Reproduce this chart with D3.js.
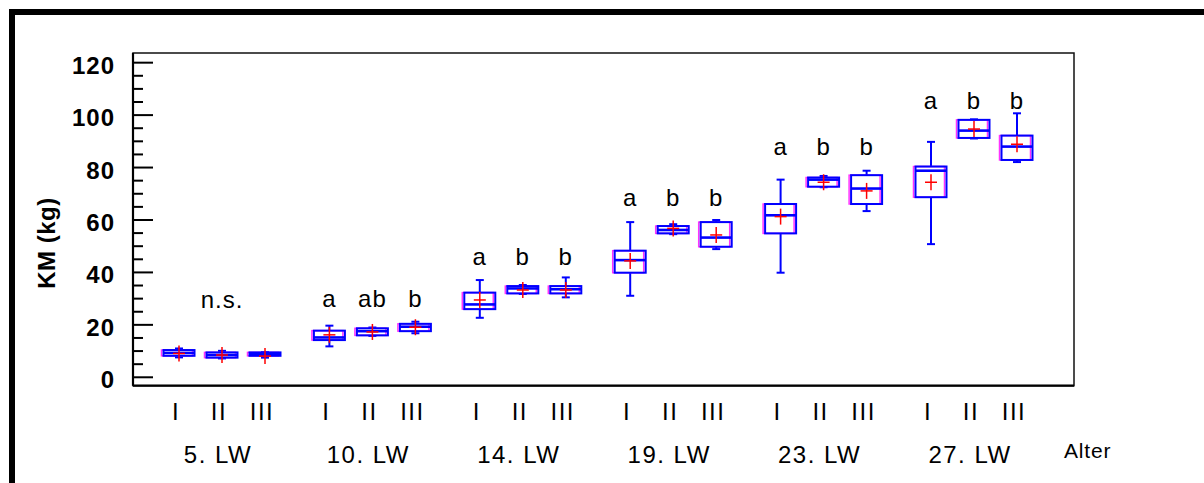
<!DOCTYPE html>
<html><head><meta charset="utf-8">
<script src="https://cdn.jsdelivr.net/npm/d3@7"></script>
<style>
html,body{margin:0;padding:0;background:#fff;}
svg{display:block;font-family:"Liberation Sans",Arial,Helvetica,sans-serif;}
</style></head>
<body>
<svg id="chart" width="1204" height="483"></svg>
<script>
// ---- data ----
const groups = ["5. LW","10. LW","14. LW","19. LW","23. LW","27. LW"];
const treatments = ["I","II","III"];
// one value per box, group-major order (5. LW I, II, III, 10. LW I, ...)
const whiskerLow  = [7.4, 7.0, 7.3,  11.6, 15.6, 16.6,  22.5, 31.6, 30.3,  30.9, 54.4, 48.7,  39.7, 72.3, 63.2,  50.6, 90.9, 81.9];
const q1          = [8.0, 7.3, 8.0,  14.0, 15.8, 17.4,  25.8, 31.8, 31.8,  39.7, 54.7, 49.6,  54.7, 72.5, 65.9,  68.5, 91.1, 82.7];
const median      = [9.1, 8.3, 8.7,  15.0, 17.4, 19.1,  27.6, 33.7, 33.4,  44.5, 56.0, 53.1,  61.6, 75.2, 71.8,  78.6, 93.9, 87.8];
const q3          = [10.2, 9.3, 9.3, 17.6, 18.5, 20.2,  32.1, 34.6, 34.6,  48.1, 57.5, 59.0,  65.9, 76.0, 76.9,  80.2, 98.0, 92.0];
const whiskerHigh = [10.8, 9.9, 9.4, 19.5, 18.8, 21.0,  36.9, 35.0, 37.9,  59.0, 58.2, 59.8,  75.2, 76.6, 78.6,  89.6, 98.2, 100.5];
const means       = [8.9, 8.3, 7.9,  16.0, 17.1, 18.9,  29.3, 33.1, 33.1,  44.2, 56.6, 54.1,  61.1, 74.2, 70.9,  74.2, 94.5, 88.7];
const letters     = ["", "n.s.", "",  "a","ab","b",  "a","b","b",  "a","b","b",  "a","b","b",  "a","b","b"];
const letterLevel = [26.1, 26.7, 42.6, 65.2, 84.6, 102.1]; // kg level of the letters per group
const yMajorTicks = [0, 20, 40, 60, 80, 100, 120];
const yLabel = "KM (kg)";
const xTitle = "Alter";

// ---- layout ----
const svg = d3.select("#chart");
const L = 133, T = 53, R = 1074, B = 385.7;

const y = d3.scaleLinear().domain([-3.4, 123.5]).range([B, T]);
const xg = d3.scaleBand().domain(groups).range([146.8, 1049.2]).padding(0);
const xt = d3.scalePoint().domain(treatments).range([-43, 43]);

const boxes = [];
groups.forEach((g, gi) => treatments.forEach((t, ti) => {
  const i = gi * 3 + ti;
  boxes.push({g, t, gi, lo: whiskerLow[i], q1: q1[i], med: median[i], q3: q3[i], hi: whiskerHigh[i], mean: means[i], letter: letters[i]});
}));
const cx = d => xg(d.g) + xg.bandwidth() / 2 + xt(d.t);

// outer thick frame (top + left)
svg.append("path").attr("d", "M12,483V12H1204").attr("fill", "none").attr("stroke", "#000").attr("stroke-width", 6);

// plot frame
svg.append("rect").attr("x", L).attr("y", T).attr("width", R - L).attr("height", B - T)
  .attr("fill", "none").attr("stroke", "#111").attr("stroke-width", 1.5);
svg.append("line").attr("x1", L).attr("x2", R).attr("y1", B).attr("y2", B).attr("stroke", "#000").attr("stroke-width", 2.2);
svg.append("line").attr("x1", L).attr("x2", L).attr("y1", T).attr("y2", B).attr("stroke", "#000").attr("stroke-width", 2.2);

// y axis: major + minor ticks pointing inward
const minorTicks = d3.range(0, 121, 5).filter(v => !yMajorTicks.includes(v));
const yAxisMajor = d3.axisRight(y).tickValues(yMajorTicks).tickSize(20).tickFormat("");
const yAxisMinor = d3.axisRight(y).tickValues(minorTicks).tickSize(10).tickFormat("");
[yAxisMajor, yAxisMinor].forEach(ax => {
  const gA = svg.append("g").attr("transform", `translate(${L},0)`).call(ax);
  gA.select(".domain").remove();
  gA.selectAll(".tick line").attr("stroke", "#000").attr("stroke-width", 2);
});
svg.append("g").selectAll("text").data(yMajorTicks).join("text")
  .attr("x", 115).attr("y", d => y(d) + 11.5)
  .attr("text-anchor", "end").attr("font-size", 24).attr("font-weight", "bold")
  .attr("letter-spacing", 1).attr("fill", "#000").text(d => d);

svg.append("text").attr("transform", `translate(55,243) rotate(-90)`)
  .attr("text-anchor", "middle").attr("font-size", 24).attr("font-weight", "bold")
  .attr("letter-spacing", 0.5).text(yLabel);

// x labels
svg.append("g").selectAll("text").data(boxes).join("text")
  .attr("x", d => cx(d) - 3).attr("y", 420).attr("text-anchor", "middle")
  .attr("font-size", 24).attr("letter-spacing", 1.5).attr("fill", "#000").text(d => d.t);
svg.append("g").selectAll("text").data(groups).join("text")
  .attr("x", d => xg(d) + xg.bandwidth() / 2 - 4).attr("y", 462.5).attr("text-anchor", "middle")
  .attr("font-size", 24).attr("letter-spacing", 1.5).attr("fill", "#000").text(d => d);
svg.append("text").attr("x", 1064).attr("y", 458).attr("font-size", 21).attr("letter-spacing", 0.8)
  .attr("fill", "#000").text(xTitle);

// boxes
const bw = 31, cap = 8;
const gb = svg.append("g");
const box = gb.selectAll("g").data(boxes).join("g");
// whiskers
box.append("line").attr("x1", cx).attr("x2", cx).attr("y1", d => y(d.hi)).attr("y2", d => y(d.q3))
  .attr("stroke", "#0000ff").attr("stroke-width", 2);
box.append("line").attr("x1", cx).attr("x2", cx).attr("y1", d => y(d.q1)).attr("y2", d => y(d.lo))
  .attr("stroke", "#0000ff").attr("stroke-width", 2);
box.append("line").attr("x1", d => cx(d) - cap / 2).attr("x2", d => cx(d) + cap / 2)
  .attr("y1", d => y(d.hi)).attr("y2", d => y(d.hi)).attr("stroke", "#0000ff").attr("stroke-width", 2);
box.append("line").attr("x1", d => cx(d) - cap / 2).attr("x2", d => cx(d) + cap / 2)
  .attr("y1", d => y(d.lo)).attr("y2", d => y(d.lo)).attr("stroke", "#0000ff").attr("stroke-width", 2);
// magenta shadow box
box.append("rect").attr("x", d => cx(d) - bw / 2 - 2).attr("y", d => y(d.q3))
  .attr("width", bw).attr("height", d => y(d.q1) - y(d.q3))
  .attr("fill", "none").attr("stroke", "#ff00ff").attr("stroke-width", 1.5).attr("stroke-opacity", 0.8);
// blue box
box.append("rect").attr("x", d => cx(d) - bw / 2).attr("y", d => y(d.q3))
  .attr("width", bw).attr("height", d => y(d.q1) - y(d.q3))
  .attr("fill", "none").attr("stroke", "#0000ff").attr("stroke-width", 2);
// median
box.append("line").attr("x1", d => cx(d) - bw / 2).attr("x2", d => cx(d) + bw / 2)
  .attr("y1", d => y(d.med)).attr("y2", d => y(d.med)).attr("stroke", "#0000ff").attr("stroke-width", 2.6);
// mean cross
box.append("line").attr("x1", d => cx(d) - 6).attr("x2", d => cx(d) + 6)
  .attr("y1", d => y(d.mean)).attr("y2", d => y(d.mean)).attr("stroke", "#ff0000").attr("stroke-width", 1.5);
box.append("line").attr("x1", cx).attr("x2", cx)
  .attr("y1", d => y(d.mean) - 8).attr("y2", d => y(d.mean) + 8).attr("stroke", "#ff0000").attr("stroke-width", 1.5);

// significance letters
box.filter(d => d.letter).append("text")
  .attr("x", cx).attr("y", d => y(letterLevel[d.gi]))
  .attr("text-anchor", "middle").attr("font-size", 24).attr("letter-spacing", 1).attr("fill", "#000").text(d => d.letter);
</script>
</body></html>
